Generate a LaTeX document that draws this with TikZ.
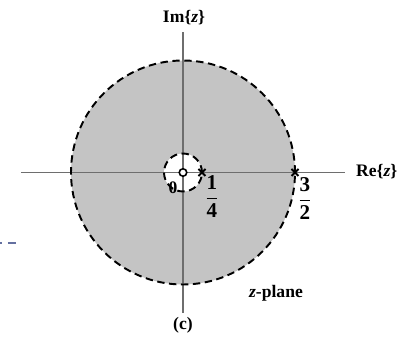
\documentclass[tikz,border=0pt]{standalone}
\usepackage{fontspec}
\setmainfont{Liberation Serif}
\usepackage{amsmath}
\usetikzlibrary{positioning, calc}
\definecolor{regiongray}{RGB}{196,196,196}
\definecolor{axisgray}{RGB}{110,110,110}
\definecolor{strayblue}{RGB}{100,112,160}
\tikzset{
  axis/.style={line width=1.1pt, color=axisgray},
  roc/.style={dashed, dash pattern=on 4.2pt off 2.6pt, line width=1.1pt, color=black},
  polemark/.style={line width=1.1pt, color=black},
  lbl/.style={font=\bfseries, inner sep=1pt},
  fraclbl/.style={font=\large\bfseries, inner sep=0pt}
}
\newcommand{\polecross}[1]{%
  \draw[polemark] ($(#1)+(-0.07,-0.07)$) -- ($(#1)+(0.07,0.07)$);
  \draw[polemark] ($(#1)+(-0.07,0.07)$) -- ($(#1)+(0.07,-0.07)$);}
\newcommand{\boldfrac}[2]{$\dfrac{\textbf{#1}}{\textbf{#2}}$}
\begin{document}
\begin{tikzpicture}
  \useasboundingbox (-3.66,-3.45) rectangle (4.36,3.45);
  % Region of convergence
  \fill[regiongray] (0,0) circle (2.24);
  \fill[white] (0,0) circle (0.38);

  % Axes
  \coordinate (west) at (-3.24,0);
  \coordinate (east) at (3.24,0);
  \coordinate (south) at (0,-2.81);
  \coordinate (north) at (0,2.81);
  \draw[axis] (west) -- (east);
  \draw[axis] (south) -- (north);
  \node[lbl, anchor=west] (re) at (3.42,0.02) {Re\{\textit{z}\}};
  \node[lbl, anchor=south] (im) at (0.02,2.92) {Im\{\textit{z}\}};

  % Circles
  \draw[roc] (0,0) circle (2.24);
  \draw[roc] (0,0) circle (0.38);

  % Zero and poles
  \coordinate (zero) at (0,0);
  \coordinate (pquarter) at (0.38,0);
  \coordinate (pthreehalf) at (2.24,0);
  \draw[line width=0.9pt, fill=white] (zero) circle (0.075);
  \polecross{pquarter}
  \polecross{pthreehalf}
  \node[lbl] (zlbl) at (-0.2,-0.3) {0};
  \node[fraclbl] (qlbl) at (0.58,-0.48) {\boldfrac{1}{4}};
  \node[fraclbl] (tlbl) at (2.44,-0.52) {\boldfrac{3}{2}};

  \node[lbl] (plane) at (1.86,-2.41) {\textit{z}-plane};
  \node[lbl] (cap) at (0,-3.05) {(c)};

  % Stray mark at left edge
  \draw[strayblue, line width=1.2pt, dash pattern=on 4.5pt off 3.2pt, dash phase=3.2pt] (-3.66,-1.41) -- (-3.32,-1.41);
\end{tikzpicture}
\end{document}
